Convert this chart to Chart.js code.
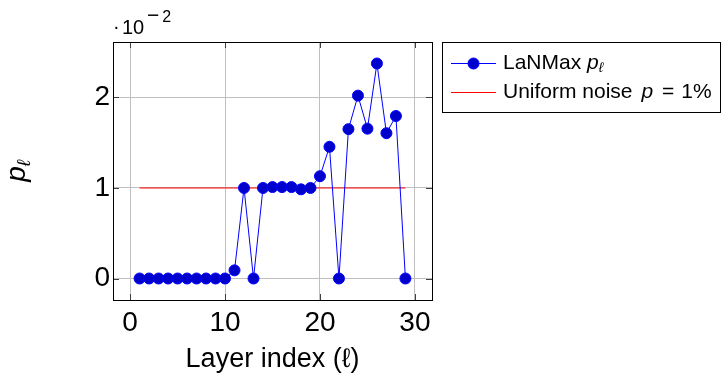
<!DOCTYPE html>
<html lang="en">
<head>
<meta charset="UTF-8">
<title>LaNMax p per layer</title>
<script src="https://cdn.jsdelivr.net/npm/chart.js"></script>
<style>
  html, body { margin: 0; padding: 0; background: #fff; }
  #chart { display: block; }
</style>
</head>
<body>
<canvas id="chart" width="723" height="377"></canvas>
<script>
// p values are in units of 1e-2 (the axis carries the ·10^-2 factor)
const layers = [1, 2, 3, 4, 5, 6, 7, 8, 9, 10, 11, 12, 13, 14, 15, 16, 17, 18, 19, 20, 21, 22, 23, 24, 25, 26, 27, 28, 29];
const lanmaxP = [0, 0, 0, 0, 0, 0, 0, 0, 0, 0, 0.09, 1.0, 0, 1.0, 1.01, 1.01, 1.01, 0.985, 1.0, 1.13, 1.455, 0, 1.65, 2.02, 1.655, 2.375, 1.605, 1.795, 0];
// uniform noise baseline, p = 1%
const noiseLayers = [1, 29];
const noiseP = [1, 1];

const xTicks = [0, 10, 20, 30];
const yTicks = [0, 1, 2];

const FONT = '"Liberation Sans", Arial, sans-serif';
const BLUE = '#0000ff';
const BLUE_FILL = '#0000cc';
const RED = '#ff0000';

// draw a row of text pieces (normal / italic / sub- and superscripts)
function drawRuns(ctx, x, y, runs) {
  ctx.textAlign = 'left';
  ctx.textBaseline = 'alphabetic';
  for (const r of runs) {
    x += r.before || 0;
    ctx.font = r.font;
    ctx.fillText(r.t, x, y + (r.dy || 0));
    x += ctx.measureText(r.t).width + (r.after || 0);
  }
  return x;
}
function runsWidth(ctx, runs) {
  let w = 0;
  for (const r of runs) {
    ctx.font = r.font;
    w += (r.before || 0) + ctx.measureText(r.t).width + (r.after || 0);
  }
  return w;
}

const axisBox = {
  id: 'axisBox',
  afterDatasetsDraw(chart) {
    const { ctx, chartArea: a, scales: { x, y } } = chart;
    ctx.save();
    // small inward tick marks on all four sides
    ctx.strokeStyle = '#404040';
    ctx.lineWidth = 1;
    ctx.beginPath();
    for (const v of xTicks) {
      const px = Math.round(x.getPixelForValue(v)) + 0.5;
      ctx.moveTo(px, a.bottom); ctx.lineTo(px, a.bottom - 6);
      ctx.moveTo(px, a.top); ctx.lineTo(px, a.top + 6);
    }
    for (const v of yTicks) {
      const py = Math.round(y.getPixelForValue(v)) + 0.5;
      ctx.moveTo(a.left, py); ctx.lineTo(a.left + 6, py);
      ctx.moveTo(a.right, py); ctx.lineTo(a.right - 6, py);
    }
    ctx.stroke();
    ctx.strokeStyle = '#000';
    ctx.strokeRect(a.left + 0.5, a.top + 0.5, a.right - a.left, a.bottom - a.top);
    ctx.restore();
  },
  afterDraw(chart) {
    const { ctx, chartArea: a } = chart;
    ctx.save();
    ctx.fillStyle = '#000';

    // axis multiplier ·10^-2
    drawRuns(ctx, 113, 33, [{ t: '·', font: `20px ${FONT}` }]);
    drawRuns(ctx, 122, 34, [{ t: '10', font: `20px ${FONT}` }]);
    drawRuns(ctx, 147, 22, [
      { t: '−', font: `21px ${FONT}`, after: 3 },
      { t: '2', font: `16px ${FONT}` }
    ]);

    // y axis title, rotated
    const yRuns = [
      { t: 'p', font: `italic 28px ${FONT}` },
      { t: 'ℓ', font: `italic 19px ${FONT}`, dy: 5 }
    ];
    ctx.translate(21, (a.top + a.bottom) / 2);
    ctx.rotate(-Math.PI / 2);
    drawRuns(ctx, -runsWidth(ctx, yRuns) / 2, 4, yRuns);
    ctx.setTransform(1, 0, 0, 1, 0, 0);

    // legend box
    const lx = 442, ly = 42, lw = 279, lh = 70;
    ctx.fillStyle = '#fff';
    ctx.fillRect(lx, ly, lw, lh);
    ctx.strokeStyle = '#000';
    ctx.lineWidth = 1;
    ctx.strokeRect(lx + 0.5, ly + 0.5, lw - 1, lh);

    const rows = [63, 92];
    ctx.lineWidth = 1;
    ctx.strokeStyle = BLUE;
    ctx.beginPath(); ctx.moveTo(451, rows[0] + 0.5); ctx.lineTo(496, rows[0] + 0.5); ctx.stroke();
    ctx.beginPath(); ctx.arc(473.5, rows[0] + 0.5, 5.5, 0, Math.PI * 2);
    ctx.fillStyle = BLUE_FILL; ctx.fill(); ctx.stroke();
    ctx.strokeStyle = RED;
    ctx.beginPath(); ctx.moveTo(451, rows[1] + 0.5); ctx.lineTo(496, rows[1] + 0.5); ctx.stroke();

    ctx.fillStyle = '#000';
    const normal = `21px ${FONT}`, ital = `italic 21px ${FONT}`;
    drawRuns(ctx, 503, rows[0] + 6, [
      { t: 'LaNMax ', font: normal },
      { t: 'p', font: ital },
      { t: 'ℓ', font: `italic 14px ${FONT}`, dy: 3 }
    ]);
    drawRuns(ctx, 503, rows[1] + 6, [
      { t: 'Uniform noise ', font: normal },
      { t: 'p', font: ital, before: 3 },
      { t: '=', font: normal, before: 9, after: 7 },
      { t: '1%', font: normal }
    ]);
    ctx.restore();
  }
};

const ctx = document.getElementById('chart').getContext('2d');
new Chart(ctx, {
  type: 'scatter',
  data: {
    datasets: [
      {
        label: 'LaNMax p',
        data: layers.map((l, i) => ({ x: l, y: lanmaxP[i] })),
        showLine: true,
        borderColor: BLUE,
        borderWidth: 1,
        pointRadius: 5.5,
        pointHoverRadius: 5.5,
        pointBackgroundColor: BLUE_FILL,
        pointBorderColor: BLUE,
        pointBorderWidth: 1
      },
      {
        label: 'Uniform noise p = 1%',
        data: noiseLayers.map((l, i) => ({ x: l, y: noiseP[i] })),
        showLine: true,
        borderColor: RED,
        borderWidth: 1,
        pointRadius: 0
      }
    ]
  },
  options: {
    responsive: false,
    animation: false,
    devicePixelRatio: 1,
    layout: { padding: { top: 42, right: 291, left: 0, bottom: 0 } },
    plugins: { legend: { display: false }, tooltip: { enabled: false } },
    scales: {
      x: {
        type: 'linear',
        min: -1.8,
        max: 31.8,
        afterBuildTicks: s => { s.ticks = xTicks.map(v => ({ value: v })); },
        afterFit: s => { s.height = 77; },
        grid: { color: '#bfbfbf', lineWidth: 1, drawTicks: false },
        border: { display: false },
        ticks: { font: { family: FONT, size: 28 }, color: '#000', padding: 6, maxRotation: 0 },
        title: {
          display: true,
          text: 'Layer index (ℓ)',
          font: { family: FONT, size: 27 },
          color: '#000',
          padding: { top: 0, bottom: 1 }
        }
      },
      y: {
        type: 'linear',
        min: -0.2375,
        max: 2.6125,
        afterBuildTicks: s => { s.ticks = yTicks.map(v => ({ value: v })); },
        afterFit: s => { s.width = 113; },
        grid: { color: '#bfbfbf', lineWidth: 1, drawTicks: false },
        border: { display: false },
        ticks: { font: { family: FONT, size: 28 }, color: '#000', padding: 3 }
      }
    }
  },
  plugins: [axisBox]
});
</script>
</body>
</html>
